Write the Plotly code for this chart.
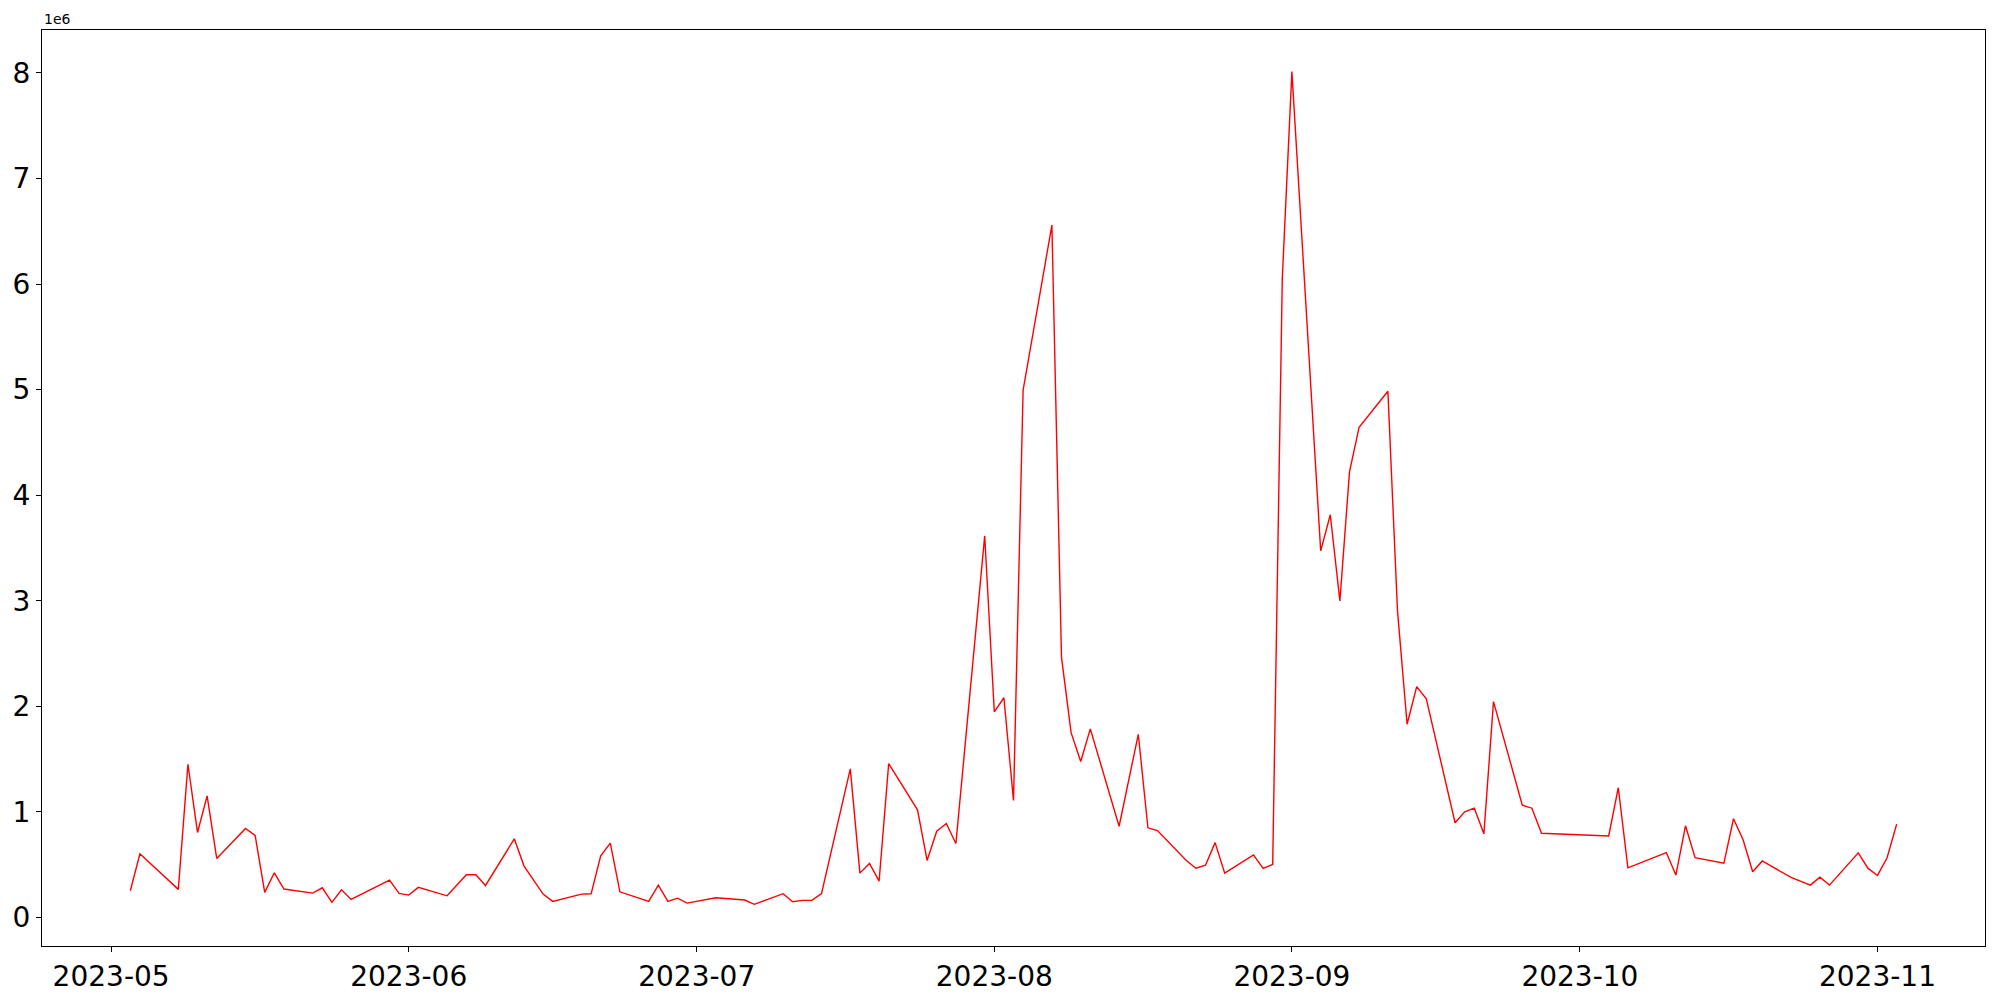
import pandas as pd
import plotly.graph_objects as go

dates = [
    "2023-05-03", "2023-05-04", "2023-05-08", "2023-05-09", "2023-05-10", "2023-05-11", "2023-05-12",
    "2023-05-15", "2023-05-16", "2023-05-17", "2023-05-18", "2023-05-19",
    "2023-05-22", "2023-05-23", "2023-05-24", "2023-05-25", "2023-05-26",
    "2023-05-30", "2023-05-31", "2023-06-01", "2023-06-02",
    "2023-06-05", "2023-06-07", "2023-06-08", "2023-06-09",
    "2023-06-12", "2023-06-13", "2023-06-14", "2023-06-15", "2023-06-16",
    "2023-06-19", "2023-06-20", "2023-06-21", "2023-06-22", "2023-06-23",
    "2023-06-26", "2023-06-27", "2023-06-28", "2023-06-29", "2023-06-30",
    "2023-07-03", "2023-07-06", "2023-07-07",
    "2023-07-10", "2023-07-11", "2023-07-12", "2023-07-13", "2023-07-14",
    "2023-07-17", "2023-07-18", "2023-07-19", "2023-07-20", "2023-07-21",
    "2023-07-24", "2023-07-25", "2023-07-26", "2023-07-27", "2023-07-28",
    "2023-07-31", "2023-08-01", "2023-08-02", "2023-08-03", "2023-08-04",
    "2023-08-07", "2023-08-08", "2023-08-09", "2023-08-10", "2023-08-11",
    "2023-08-14", "2023-08-16", "2023-08-17", "2023-08-18",
    "2023-08-21", "2023-08-22", "2023-08-23", "2023-08-24", "2023-08-25",
    "2023-08-28", "2023-08-29", "2023-08-30", "2023-08-31", "2023-09-01",
    "2023-09-04", "2023-09-05", "2023-09-06", "2023-09-07", "2023-09-08",
    "2023-09-11", "2023-09-12", "2023-09-13", "2023-09-14", "2023-09-15",
    "2023-09-18", "2023-09-19", "2023-09-20", "2023-09-21", "2023-09-22",
    "2023-09-25", "2023-09-26", "2023-09-27",
    "2023-10-04", "2023-10-05", "2023-10-06",
    "2023-10-10", "2023-10-11", "2023-10-12", "2023-10-13",
    "2023-10-16", "2023-10-17", "2023-10-18", "2023-10-19", "2023-10-20",
    "2023-10-23", "2023-10-25", "2023-10-26", "2023-10-27",
    "2023-10-30", "2023-10-31", "2023-11-01", "2023-11-02", "2023-11-03",
]

# Valores (en millones)
values_m = [
    0.253, 0.603, 0.266, 1.451, 0.805, 1.151, 0.559,
    0.843, 0.777, 0.237, 0.423, 0.269,
    0.231, 0.281, 0.143, 0.262, 0.171,
    0.354, 0.228, 0.212, 0.285,
    0.205, 0.404, 0.404, 0.303,
    0.745, 0.489, 0.357, 0.221, 0.152,
    0.221, 0.224, 0.584, 0.704, 0.243,
    0.152, 0.306, 0.152, 0.183, 0.136,
    0.187, 0.165, 0.124,
    0.225, 0.149, 0.162, 0.162, 0.225,
    1.407, 0.420, 0.512, 0.344, 1.458,
    1.019, 0.540, 0.817, 0.890, 0.701,
    3.614, 1.948, 2.081, 1.108, 4.994,
    6.558, 2.463, 1.751, 1.477, 1.786,
    0.864, 1.735, 0.849, 0.823,
    0.540, 0.466, 0.495, 0.709, 0.420,
    0.593, 0.465, 0.502, 6.055, 8.012,
    3.473, 3.815, 2.999, 4.220, 4.644,
    4.984, 2.906, 1.830, 2.187, 2.070,
    0.897, 1.001, 1.035, 0.792, 2.044,
    1.064, 1.035, 0.797,
    0.772, 1.229, 0.470,
    0.615, 0.402, 0.868, 0.566,
    0.513, 0.935, 0.736, 0.433, 0.535,
    0.379, 0.306, 0.382, 0.306,
    0.612, 0.467, 0.398, 0.565, 0.884,
]

ytick_vals = [0, 1, 2, 3, 4, 5, 6, 7, 8]
xtick_labels = ["2023-05", "2023-06", "2023-07", "2023-08", "2023-09", "2023-10", "2023-11"]

df = pd.DataFrame({"date": pd.to_datetime(dates), "value": [v * 1e6 for v in values_m]})

# Márgenes tipo matplotlib (5%)
span = df["date"].max() - df["date"].min()
x_range = [df["date"].min() - 0.05 * span, df["date"].max() + 0.05 * span]
vmin, vmax = df["value"].min(), df["value"].max()
y_range = [vmin - 0.05 * (vmax - vmin), vmax + 0.05 * (vmax - vmin)]

fig = go.Figure(go.Scatter(
    x=df["date"],
    y=df["value"],
    mode="lines",
    line=dict(color="red", width=1.4),
))

axis_style = dict(
    showline=True,
    mirror=True,
    linecolor="black",
    linewidth=1,
    showgrid=False,
    zeroline=False,
    automargin=False,
    ticks="outside",
    ticklen=5,
    tickwidth=1,
    tickcolor="black",
    tickfont=dict(family="DejaVu Sans", size=28, color="black"),
)

fig.update_layout(
    width=2000,
    height=1000,
    margin=dict(l=42, r=15, t=30, b=54, autoexpand=False),
    paper_bgcolor="white",
    plot_bgcolor="white",
    showlegend=False,
    xaxis=dict(
        range=x_range,
        tickvals=pd.to_datetime([t + "-01" for t in xtick_labels]),
        ticktext=xtick_labels,
        **axis_style,
    ),
    yaxis=dict(
        range=y_range,
        tickvals=[v * 1e6 for v in ytick_vals],
        ticktext=[str(v) for v in ytick_vals],
        **axis_style,
    ),
    annotations=[dict(
        text="1e6",
        xref="paper", yref="paper",
        x=0, y=1,
        xanchor="left", yanchor="bottom",
        showarrow=False,
        font=dict(family="DejaVu Sans", size=14, color="black"),
        yshift=1,
    )],
)

# Quitar el margen del body para que la figura empiece en (0, 0)
fig.write_html(
    "out.html",
    config={"displayModeBar": False},
    post_script="document.body.style.margin='0';",
)
